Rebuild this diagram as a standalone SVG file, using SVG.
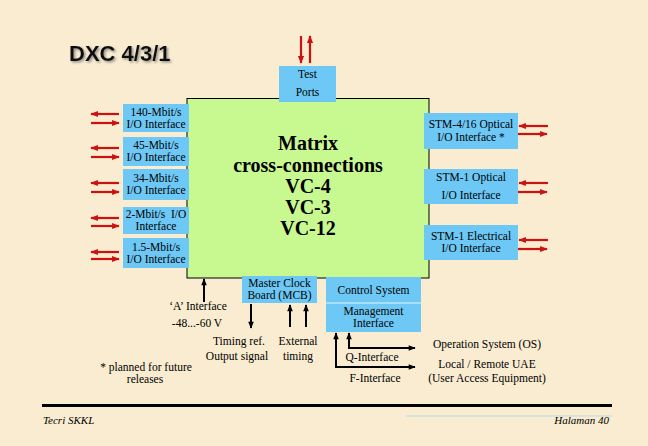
<svg xmlns="http://www.w3.org/2000/svg" width="648" height="446" viewBox="0 0 648 446">
<defs>
<style>
.t{font-family:"Liberation Serif","Times New Roman",serif;font-size:11.5px;fill:#000;text-anchor:middle}
.blue{fill:#6DC8F5}
.red{stroke:#CC1111;stroke-width:2.2;fill:none}
.blk{stroke:#000;stroke-width:2;fill:none}
.mx{font-family:"Liberation Serif","Times New Roman",serif;font-size:20px;font-weight:bold;fill:#000;text-anchor:middle}
.foot{font-family:"Liberation Serif","Times New Roman",serif;font-size:11px;font-style:italic;fill:#000}
</style>
<filter id="sh" x="-10%" y="-30%" width="130%" height="170%">
<feDropShadow dx="1.5" dy="1.5" stdDeviation="0.8" flood-color="#777" flood-opacity="0.8"/>
</filter>
<marker id="ar" viewBox="0 0 10 10" refX="9" refY="5" markerWidth="4" markerHeight="3.5" orient="auto" markerUnits="strokeWidth">
<path d="M0,1 L10,5 L0,9 z" fill="#CC1111"/>
</marker>
<marker id="ab" viewBox="0 0 10 10" refX="9" refY="5" markerWidth="4" markerHeight="3.5" orient="auto" markerUnits="strokeWidth">
<path d="M0,1 L10,5 L0,9 z" fill="#000"/>
</marker>
</defs>
<rect width="648" height="446" fill="#F9ECD0"/>

<text x="69" y="61" font-family="Liberation Sans,Arial,sans-serif" font-size="22" font-weight="bold" fill="#111" filter="url(#sh)">DXC 4/3/1</text>

<g id="matrix">
<rect x="187" y="98.5" width="242" height="179.5" fill="#C8F890" stroke="#000" stroke-width="1"/>
<text class="mx" x="308" y="150">Matrix</text>
<text class="mx" x="308" y="172">cross-connections</text>
<text class="mx" x="308" y="193">VC-4</text>
<text class="mx" x="308" y="214">VC-3</text>
<text class="mx" x="308" y="235">VC-12</text>
</g>

<g id="test-ports">
<rect class="blue" x="279" y="66" width="57" height="36"/>
<text class="t" x="307.5" y="78">Test</text>
<text class="t" x="307.5" y="96">Ports</text>
</g>

<g id="if-140">
<rect class="blue" x="123" y="104" width="66" height="28"/>
<text class="t" x="156" y="116">140-Mbit/s</text>
<text class="t" x="156" y="128">I/O Interface</text>
</g>
<g id="if-45">
<rect class="blue" x="123" y="137" width="66" height="29"/>
<text class="t" x="156" y="149">45-Mbit/s</text>
<text class="t" x="156" y="161">I/O Interface</text>
</g>
<g id="if-34">
<rect class="blue" x="123" y="169" width="66" height="31"/>
<text class="t" x="156" y="182">34-Mbit/s</text>
<text class="t" x="156" y="194">I/O Interface</text>
</g>
<g id="if-2">
<rect class="blue" x="123" y="207" width="66" height="27"/>
<text class="t" x="156" y="218" xml:space="preserve">2-Mbit/s  I/O</text>
<text class="t" x="156" y="230">Interface</text>
</g>
<g id="if-1-5">
<rect class="blue" x="123" y="238" width="66" height="30"/>
<text class="t" x="156" y="251">1.5-Mbit/s</text>
<text class="t" x="156" y="263">I/O Interface</text>
</g>

<g id="if-stm416">
<rect class="blue" x="424" y="113" width="94" height="36"/>
<text class="t" x="471" y="128">STM-4/16 Optical</text>
<text class="t" x="471" y="141">I/O Interface *</text>
</g>
<g id="if-stm1-opt">
<rect class="blue" x="424" y="169" width="94" height="35"/>
<text class="t" x="471" y="181">STM-1 Optical</text>
<text class="t" x="471" y="199">I/O Interface</text>
</g>
<g id="if-stm1-el">
<rect class="blue" x="424" y="225" width="94" height="35"/>
<text class="t" x="471" y="240">STM-1 Electrical</text>
<text class="t" x="471" y="252">I/O Interface</text>
</g>

<g id="mcb">
<rect class="blue" x="242" y="276" width="75" height="27"/>
<text class="t" x="279.5" y="287">Master Clock</text>
<text class="t" x="279.5" y="299">Board (MCB)</text>
</g>

<g id="control">
<rect class="blue" x="326" y="277" width="95" height="55"/>
<line x1="326" y1="303" x2="421" y2="303" stroke="#E8F6FF" stroke-width="1.2"/>
<text class="t" x="373.5" y="294">Control System</text>
<text class="t" x="373.5" y="315">Management</text>
<text class="t" x="373.5" y="327">Interface</text>
</g>

<g id="connectors">
<line class="red" x1="301" y1="36" x2="301" y2="63" marker-end="url(#ar)"/>
<line class="red" x1="310" y1="63" x2="310" y2="36" marker-end="url(#ar)"/>

<line class="red" x1="119" y1="114" x2="91" y2="114" marker-end="url(#ar)"/>
<line class="red" x1="91" y1="123" x2="119" y2="123" marker-end="url(#ar)"/>
<line class="red" x1="119" y1="148" x2="91" y2="148" marker-end="url(#ar)"/>
<line class="red" x1="91" y1="157" x2="119" y2="157" marker-end="url(#ar)"/>
<line class="red" x1="119" y1="183" x2="91" y2="183" marker-end="url(#ar)"/>
<line class="red" x1="91" y1="192" x2="119" y2="192" marker-end="url(#ar)"/>
<line class="red" x1="119" y1="218" x2="91" y2="218" marker-end="url(#ar)"/>
<line class="red" x1="91" y1="226" x2="119" y2="226" marker-end="url(#ar)"/>
<line class="red" x1="119" y1="252" x2="91" y2="252" marker-end="url(#ar)"/>
<line class="red" x1="91" y1="259" x2="119" y2="259" marker-end="url(#ar)"/>

<line class="red" x1="548" y1="126" x2="519" y2="126" marker-end="url(#ar)"/>
<line class="red" x1="518" y1="134" x2="547" y2="134" marker-end="url(#ar)"/>
<line class="red" x1="548" y1="183" x2="519" y2="183" marker-end="url(#ar)"/>
<line class="red" x1="518" y1="192" x2="547" y2="192" marker-end="url(#ar)"/>
<line class="red" x1="548" y1="240" x2="519" y2="240" marker-end="url(#ar)"/>
<line class="red" x1="518" y1="249" x2="547" y2="249" marker-end="url(#ar)"/>

<line class="blk" x1="204" y1="302" x2="204" y2="279" marker-end="url(#ab)"/>
<line class="blk" x1="251" y1="304" x2="251" y2="328" marker-end="url(#ab)"/>
<line class="blk" x1="290" y1="327" x2="290" y2="305" marker-end="url(#ab)"/>
<line class="blk" x1="306" y1="327" x2="306" y2="305" marker-end="url(#ab)"/>
<polyline class="blk" points="415,348 349,348 349,333" marker-end="url(#ab)"/>
<polyline class="blk" points="415,367 336,367 336,333" marker-end="url(#ab)"/>
<line class="blk" x1="380" y1="348" x2="415" y2="348" marker-end="url(#ab)"/>
<line class="blk" x1="380" y1="367" x2="415" y2="367" marker-end="url(#ab)"/>
</g>

<g id="labels">
<text class="t" x="198" y="310">‘A’ Interface</text>
<text class="t" x="197" y="327">-48...-60 V</text>
<text class="t" x="239" y="345">Timing ref.</text>
<text class="t" x="237" y="360">Output signal</text>
<text class="t" x="298" y="345">External</text>
<text class="t" x="298" y="360">timing</text>
<text class="t" x="372" y="361">Q-Interface</text>
<text class="t" x="375" y="382">F-Interface</text>
<text class="t" x="487" y="348">Operation System (OS)</text>
<text class="t" x="487" y="368">Local / Remote UAE</text>
<text class="t" x="487" y="382">(User Access Equipment)</text>
<text class="t" x="146" y="371">* planned for future</text>
<text class="t" x="145" y="383">releases</text>
</g>

<g id="footer">
<line x1="42" y1="405.5" x2="612" y2="405.5" stroke="#000" stroke-width="3"/>
<line x1="405" y1="416" x2="612" y2="416" stroke="#D6E6DE" stroke-width="2"/>
<text class="foot" x="43" y="424">Tecri SKKL</text>
<text class="foot" x="609" y="424" text-anchor="end">Halaman 40</text>
</g>
</svg>
